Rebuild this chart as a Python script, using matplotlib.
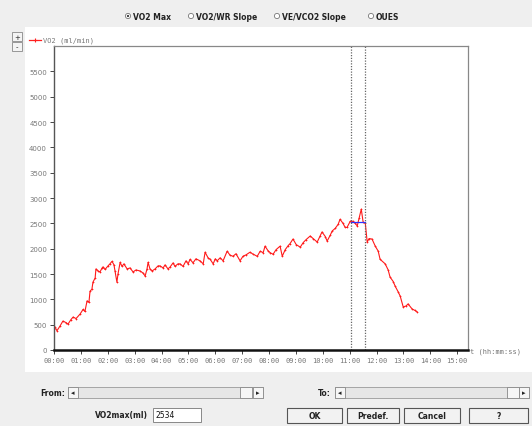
import numpy as np
import matplotlib
matplotlib.use("Agg")
from matplotlib import pyplot as plt
from matplotlib.patches import Rectangle, Circle

# VO2 trace (time in minutes, VO2 in ml/min)
t_min = [0.00, 0.04, 0.11, 0.22, 0.33, 0.45, 0.52, 0.63, 0.71, 0.82, 0.97, 1.08, 1.15, 1.23,
         1.30, 1.34, 1.41, 1.45, 1.53, 1.56, 1.64, 1.71, 1.79, 1.82, 1.90, 2.01, 2.08, 2.16,
         2.23, 2.27, 2.34, 2.38, 2.46, 2.53, 2.60, 2.72, 2.83, 2.94, 3.05, 3.20, 3.31, 3.39,
         3.46, 3.50, 3.57, 3.65, 3.76, 3.87, 3.94, 4.06, 4.13, 4.24, 4.32, 4.43, 4.50, 4.61,
         4.69, 4.80, 4.91, 4.99, 5.06, 5.17, 5.28, 5.43, 5.55, 5.62, 5.73, 5.81, 5.92, 6.00,
         6.07, 6.18, 6.29, 6.44, 6.55, 6.66, 6.77, 6.92, 7.03, 7.15, 7.29, 7.41, 7.56, 7.67,
         7.78, 7.85, 7.96, 8.04, 8.15, 8.26, 8.41, 8.49, 8.60, 8.71, 8.78, 8.89, 9.01, 9.16,
         9.27, 9.38, 9.53, 9.64, 9.79, 9.90, 9.97, 10.09, 10.16, 10.27, 10.35, 10.46, 10.57,
         10.64, 10.75, 10.83, 10.90, 11.02, 11.13, 11.20, 11.28, 11.35, 11.43, 11.50, 11.58,
         11.65, 11.72, 11.83, 11.95, 12.06, 12.13, 12.32, 12.43, 12.50, 12.62, 12.69, 12.80,
         12.88, 12.99, 13.10, 13.17, 13.32, 13.43, 13.51]
vo2 = [420, 450, 380, 470, 570, 540, 510, 600, 650, 620, 710, 800, 760, 970,
       940, 1160, 1200, 1340, 1420, 1600, 1560, 1540, 1620, 1640, 1590, 1660, 1700, 1750,
       1680, 1560, 1340, 1500, 1730, 1650, 1700, 1600, 1620, 1540, 1580, 1560, 1520, 1460,
       1600, 1730, 1600, 1560, 1600, 1660, 1660, 1620, 1680, 1600, 1640, 1720, 1650, 1700,
       1700, 1650, 1760, 1700, 1790, 1720, 1800, 1760, 1700, 1930, 1820, 1790, 1700, 1800,
       1760, 1820, 1760, 1950, 1870, 1850, 1900, 1760, 1850, 1880, 1930, 1890, 1850, 1950,
       1920, 2050, 1960, 1920, 1890, 1980, 2050, 1850, 1980, 2060, 2100, 2190, 2080, 2030,
       2120, 2180, 2250, 2200, 2130, 2250, 2330, 2240, 2150, 2260, 2350, 2400, 2480,
       2580, 2500, 2420, 2420, 2540, 2540, 2500, 2450, 2600, 2780, 2520, 2500,
       2130, 2200, 2190, 2050, 1950, 1790, 1700, 1580, 1440, 1350, 1260, 1150,
       1060, 850, 870, 910, 810, 780, 750]

win_start, win_end = 11.04, 11.56   # selection markers
vo2max = 2534

y_ticks = list(range(0, 6000, 500))
x_ticks = list(range(0, 16))
x_labels = ["%02d:00" % m for m in x_ticks]
radio_labels = ["VO2 Max", "VO2/WR Slope", "VE/VCO2 Slope", "OUES"]

W, H = 532, 427
fig = plt.figure(figsize=(W / 100, H / 100), dpi=100, facecolor="#efefef")

# background "dialog" layer in pixel coords
bg = fig.add_axes([0, 0, 1, 1], zorder=0)
bg.set_xlim(0, W)
bg.set_ylim(H, 0)
bg.axis("off")
bg.add_patch(Rectangle((25, 28), 507, 345, fc="white", ec="none"))

# radio buttons
radio_x = [128, 191, 277, 371]
for i, (rx, lab) in enumerate(zip(radio_x, radio_labels)):
    bg.add_patch(Circle((rx, 17), 2.6, fc="white", ec="#777777", lw=0.6))
    if i == 0:
        bg.add_patch(Circle((rx, 17), 1.1, fc="#333333", ec="none"))
    bg.text(rx + 5, 17.5, lab, fontsize=5.5, fontweight="bold", va="center", color="#222222")

# +/- zoom buttons
for yy, s in [(33, "+"), (43, "-")]:
    bg.add_patch(Rectangle((12, yy), 10, 9, fc="#f4f4f4", ec="#888888", lw=0.6))
    bg.text(17, yy + 4.5, s, fontsize=5, ha="center", va="center", color="#222222")

# legend entry
bg.plot([29, 41], [40.5, 40.5], color="#ff2020", lw=0.9)
bg.plot([35], [40.5], marker="+", color="#ff2020", ms=3, mew=0.8)
bg.text(43, 40.5, "VO2 (ml/min)", fontsize=5, family="DejaVu Sans Mono", va="center", color="#777777")

# x axis caption
bg.text(470, 352, "t (hh:mm:ss)", fontsize=5, family="DejaVu Sans Mono", va="center", color="#777777")


def scrollbar(x0, x1, thumb):
    y0, h = 388, 11
    bg.add_patch(Rectangle((x0, y0), x1 - x0, h, fc="#e6e6e6", ec="#999999", lw=0.6))
    for bx in (x0, x1 - 10):
        bg.add_patch(Rectangle((bx, y0), 10, h, fc="#f6f6f6", ec="#888888", lw=0.6))
    bg.text(x0 + 5, y0 + 5.5, "\u25c2", fontsize=5, ha="center", va="center", color="#222222")
    bg.text(x1 - 5, y0 + 5.5, "\u25b8", fontsize=5, ha="center", va="center", color="#222222")
    bg.add_patch(Rectangle((thumb, y0), 12, h, fc="#f6f6f6", ec="#888888", lw=0.6))


bg.text(40, 394, "From:", fontsize=5.5, fontweight="bold", va="center", color="#222222")
scrollbar(68, 263, 240)
bg.text(318, 394, "To:", fontsize=5.5, fontweight="bold", va="center", color="#222222")
scrollbar(335, 529, 507)

bg.text(148, 416, "VO2max(ml)", fontsize=5.5, fontweight="bold", ha="right", va="center",
        color="#222222")
bg.add_patch(Rectangle((153, 409), 48, 14, fc="white", ec="#888888", lw=0.7))
bg.text(156, 416, str(vo2max), fontsize=5.5, va="center", color="#111111")

for (bx, bw, lab) in [(287, 55, "OK"), (347, 52, "Predef."), (404, 56, "Cancel"), (469, 59, "?")]:
    bg.add_patch(Rectangle((bx, 409), bw, 15, fc="#f2f2f2", ec="#555555", lw=0.8))
    bg.text(bx + bw / 2, 416.5, lab, fontsize=5.5, fontweight="bold", ha="center", va="center",
            color="#222222")

# main chart
ax = fig.add_axes([54 / W, 1 - 351 / H, (468 - 54) / W, (351 - 47) / H], zorder=1)
ax.set_facecolor("white")
ax.plot(t_min, vo2, color="#ff1a1a", lw=0.8, marker="+", ms=1.5, mew=0.5)
ax.plot([win_start, win_end], [vo2max, vo2max], color="#3030ff", lw=0.9)
for xv in (win_start, win_end):
    ax.axvline(xv, color="#666666", lw=0.9, ls=(0, (1, 1.2)))

ax.set_xlim(0, 15.4)
ax.set_ylim(0, 6000)
ax.set_yticks(y_ticks)
ax.set_yticklabels([str(v) for v in y_ticks])
ax.set_xticks(x_ticks)
ax.set_xticklabels(x_labels)
ax.tick_params(axis="both", direction="out", length=3, width=0.7, color="#444444",
               labelsize=5, labelcolor="#777777", pad=2)
for lab in ax.get_xticklabels():
    lab.set_family("DejaVu Sans Mono")
for lab in ax.get_yticklabels():
    lab.set_family("DejaVu Sans")

for side in ("top", "right"):
    ax.spines[side].set_color("#888888")
    ax.spines[side].set_linewidth(0.9)
ax.spines["left"].set_color("#555555")
ax.spines["left"].set_linewidth(1.0)
ax.spines["bottom"].set_color("#111111")
ax.spines["bottom"].set_linewidth(1.8)

fig.savefig("out.png", dpi=100, facecolor=fig.get_facecolor())
